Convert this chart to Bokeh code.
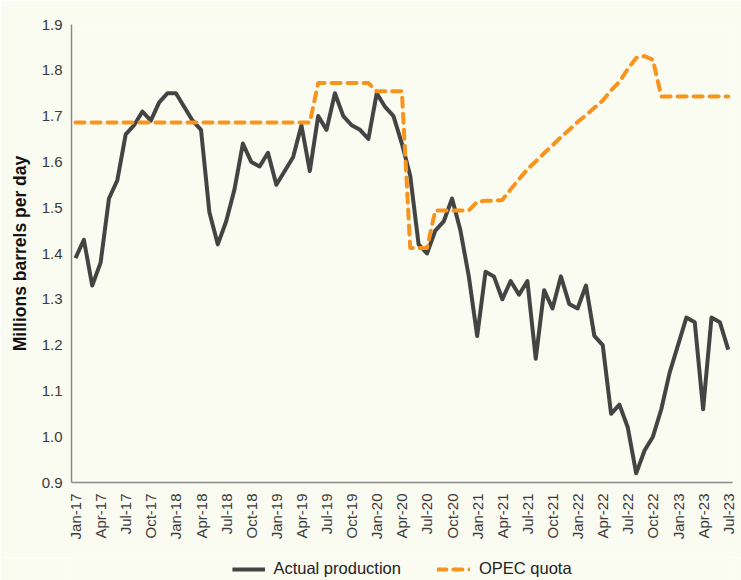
from bokeh.plotting import figure
from bokeh.layouts import column
from bokeh.models import (Range1d, FixedTicker, PrintfTickFormatter, Legend, LegendItem,
                          ColumnDataSource)
from bokeh.embed import file_html
from bokeh.resources import INLINE
from math import pi

# Monthly data, Jan-17 .. Jul-23 (79 months)
production = [
    1.39, 1.43, 1.33, 1.38, 1.52, 1.56, 1.66, 1.68, 1.71, 1.69, 1.73, 1.75,  # 2017
    1.75, 1.72, 1.69, 1.67, 1.49, 1.42, 1.47, 1.54, 1.64, 1.60, 1.59, 1.62,  # 2018
    1.55, 1.58, 1.61, 1.68, 1.58, 1.70, 1.67, 1.75, 1.70, 1.68, 1.67, 1.65,  # 2019
    1.75, 1.72, 1.70, 1.64, 1.57, 1.42, 1.40, 1.45, 1.47, 1.52, 1.45, 1.35,  # 2020
    1.22, 1.36, 1.35, 1.30, 1.34, 1.31, 1.34, 1.17, 1.32, 1.28, 1.35, 1.29,  # 2021
    1.28, 1.33, 1.22, 1.20, 1.05, 1.07, 1.02, 0.92, 0.97, 1.00, 1.06, 1.14,  # 2022
    1.20, 1.26, 1.25, 1.06, 1.26, 1.25, 1.19,                                # 2023
]
quota = [
    1.686, 1.686, 1.686, 1.686, 1.686, 1.686, 1.686, 1.686, 1.686, 1.686, 1.686, 1.686,  # 2017
    1.686, 1.686, 1.686, 1.686, 1.686, 1.686, 1.686, 1.686, 1.686, 1.686, 1.686, 1.686,  # 2018
    1.686, 1.686, 1.686, 1.686, 1.686, 1.772, 1.772, 1.772, 1.772, 1.772, 1.772, 1.772,  # 2019
    1.754, 1.754, 1.754, 1.754, 1.412, 1.412, 1.412, 1.494, 1.494, 1.494, 1.494, 1.494,  # 2020
    1.513, 1.515, 1.515, 1.517, 1.540, 1.562, 1.584, 1.601, 1.619, 1.636, 1.654, 1.670,  # 2021
    1.687, 1.702, 1.718, 1.734, 1.756, 1.775, 1.803, 1.827, 1.831, 1.823, 1.743, 1.743,  # 2022
    1.743, 1.743, 1.743, 1.743, 1.743, 1.743, 1.743,                                      # 2023
]
xtick_labels = [
    "Jan-17", "Apr-17", "Jul-17", "Oct-17", "Jan-18", "Apr-18", "Jul-18", "Oct-18",
    "Jan-19", "Apr-19", "Jul-19", "Oct-19", "Jan-20", "Apr-20", "Jul-20", "Oct-20",
    "Jan-21", "Apr-21", "Jul-21", "Oct-21", "Jan-22", "Apr-22", "Jul-22", "Oct-22",
    "Jan-23", "Apr-23", "Jul-23",
]
ytick_values = [0.9, 1.0, 1.1, 1.2, 1.3, 1.4, 1.5, 1.6, 1.7, 1.8, 1.9]
series_names = ["Actual production", "OPEC quota"]

FONT = "Liberation Sans"
BG = "#FAFBF1"
PROD_STYLE = dict(line_color="#444444", line_width=4, line_join="round")
QUOTA_STYLE = dict(line_color="#F7941D", line_width=4, line_dash="9 7",
                   line_cap="round", line_join="round")

month_index = list(range(len(production)))
src = ColumnDataSource(dict(x=month_index, prod=production, quota=quota))

p = figure(
    output_backend="svg", toolbar_location=None,
    x_range=Range1d(-0.478, 78.51), y_range=Range1d(0.9, 1.9),
    frame_width=661, frame_height=458,
    min_border_left=71, min_border_top=24, min_border_right=9, min_border_bottom=75,
    background_fill_color=BG, border_fill_color=BG, outline_line_color=None,
)
p.grid.visible = False

p.line("x", "prod", source=src, **PROD_STYLE)
p.line("x", "quota", source=src, **QUOTA_STYLE)

# x axis
xt = list(range(0, len(production), 3))
p.xaxis.ticker = FixedTicker(ticks=xt)
p.xaxis.major_label_overrides = {t: lab for t, lab in zip(xt, xtick_labels)}
p.xaxis.major_label_orientation = pi / 2
p.xaxis.major_label_standoff = 11
p.xaxis.major_label_text_font = FONT
p.xaxis.major_label_text_font_size = "15px"
p.xaxis.major_label_text_color = "#3a3a3a"

# y axis
p.yaxis.ticker = FixedTicker(ticks=ytick_values)
p.yaxis.formatter = PrintfTickFormatter(format="%.1f")
p.yaxis.major_label_standoff = 9
p.yaxis.major_label_text_font = FONT
p.yaxis.major_label_text_font_size = "15px"
p.yaxis.major_label_text_color = "#3a3a3a"
p.yaxis.axis_label = "Millions barrels per day"
p.yaxis.axis_label_text_font = FONT
p.yaxis.axis_label_text_font_style = "bold"
p.yaxis.axis_label_text_font_size = "17.5px"
p.yaxis.axis_label_text_color = "#111111"
p.yaxis.axis_label_standoff = 9

for ax in (p.xaxis, p.yaxis):
    ax.axis_line_color = "#8a8a8a"
    ax.axis_line_width = 1.5
    ax.major_tick_line_color = None
    ax.minor_tick_line_color = None
    ax.major_tick_in = 0
    ax.major_tick_out = 0
    ax.minor_tick_in = 0
    ax.minor_tick_out = 0

# legend strip below the chart (its lines lie outside its visible range)
lf = figure(
    output_backend="svg", toolbar_location=None,
    width=741, height=23, x_range=Range1d(0, 1), y_range=Range1d(0, 0.5),
    x_axis_type=None, y_axis_type=None,
    min_border_left=71, min_border_right=9, min_border_top=0, min_border_bottom=0,
    background_fill_color=BG, border_fill_color=BG, outline_line_color=None,
)
lf.grid.visible = False
lr_prod = lf.line("x", "prod", source=src, **PROD_STYLE)
lr_quota = lf.line("x", "quota", source=src, **QUOTA_STYLE)
legend = Legend(
    items=[LegendItem(label=series_names[0], renderers=[lr_prod]),
           LegendItem(label=series_names[1], renderers=[lr_quota])],
    orientation="horizontal", location="center",
    label_text_font=FONT, label_text_font_size="16.5px", label_text_color="#222222",
    glyph_width=33, glyph_height=20, label_height=20, label_standoff=9, spacing=36,
    padding=1, margin=0, border_line_color=None, background_fill_alpha=0,
)
lf.add_layout(legend, "center")

layout = column(p, lf, spacing=0)
open("out.html", "w").write(file_html(layout, INLINE))
